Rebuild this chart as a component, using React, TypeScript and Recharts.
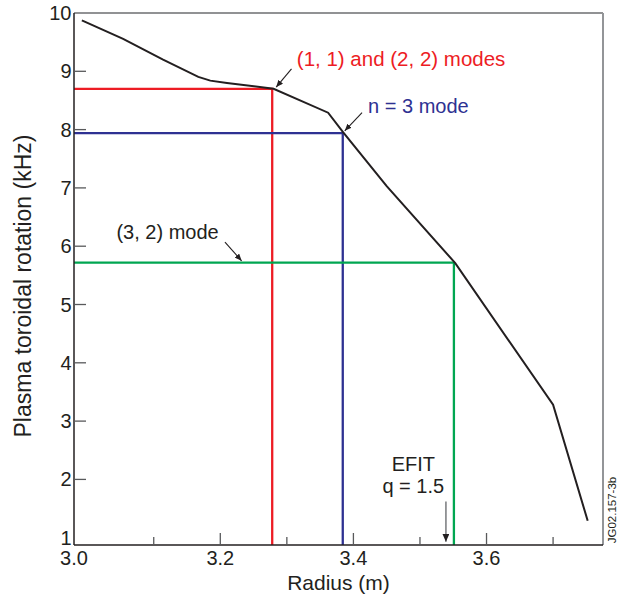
import React from "react";
import {
  ComposedChart,
  Line,
  XAxis,
  YAxis,
  ReferenceLine,
  ReferenceDot,
  Label,
} from "recharts";

// rotation profile
const radius = [2.992, 3.054, 3.114, 3.167, 3.185, 3.21, 3.28, 3.362, 3.385, 3.45, 3.553, 3.7, 3.752];
const rotation = [9.875, 9.556, 9.2, 8.904, 8.84, 8.8, 8.7, 8.29, 7.95, 7.03, 5.71, 3.28, 1.29];

// mode locations
const modeLabels = ["(1, 1) and (2, 2) modes", "n = 3 mode", "(3, 2) mode"];
const modeRadius = [3.278, 3.384, 3.551];
const modeRotation = [8.7, 7.94, 5.72];

const efitRadius = 3.539;
const efitLabels = ["EFIT", "q = 1.5"];

const xTickValues = [3.0, 3.1, 3.2, 3.3, 3.4, 3.5, 3.6, 3.7];
const xTickLabels = ["3.0", "", "3.2", "", "3.4", "", "3.6", ""];
const yTickValues = [1, 2, 3, 4, 5, 6, 7, 8, 9, 10];
const yTickLabels = ["1", "2", "3", "4", "5", "6", "7", "8", "9", "10"];

// the original axis starts a bit left of 3.0, with "3.0" printed at the corner
const X_MIN = 2.9802;
const X_MAX = 3.775;
const Y_MIN = 0.875;
const Y_MAX = 10;

const FONT = "Liberation Sans, Arial, Helvetica, sans-serif";
const INK = "#231f20";
const TICK = "#58595b";
const modeColors = ["#ed1c24", "#2e3192", "#00a651"];

const curve = radius.map((r, i) => ({ x: r, y: rotation[i] }));
const xTickPos = xTickValues.map((v) => (v === 3.0 ? X_MIN : v));

function XTick(props: any) {
  const { x, y, payload } = props;
  const i = xTickPos.indexOf(payload.value);
  const label = xTickLabels[i];
  const len = i === 0 ? 0 : label ? 12 : 8;
  return (
    <g>
      {len > 0 && <line x1={x} x2={x} y1={y} y2={y - len} stroke={TICK} strokeWidth={1.3} />}
      <text x={x} y={y + 20} textAnchor="middle" fontFamily={FONT} fontSize={20} fill={INK}>
        {label}
      </text>
    </g>
  );
}

function YTick(props: any) {
  const { x, y, payload } = props;
  const i = yTickValues.indexOf(payload.value);
  const edge = i === 0 || i === yTickValues.length - 1;
  return (
    <g>
      {!edge && <line x1={x} x2={x + 12} y1={y} y2={y} stroke={TICK} strokeWidth={1.3} />}
      <text x={x - 2.5} y={y + 7} textAnchor="end" fontFamily={FONT} fontSize={20} fill={INK}>
        {yTickLabels[i]}
      </text>
    </g>
  );
}

const arrow = (color: string, id: string, w = 1.1) => (p: any) => (
  <line x1={p.x1} y1={p.y1} x2={p.x2} y2={p.y2} stroke={color} strokeWidth={w} markerEnd={`url(#${id})`} />
);

const textAt =
  (text: string, color: string, anchor: string = "start", size = 20) =>
  (p: any) => (
    <text x={p.cx} y={p.cy + 7} textAnchor={anchor} fontFamily={FONT} fontSize={size} fill={color}>
      {text}
    </text>
  );

export default function App() {
  return (
    <div style={{ position: "absolute", left: 0, top: 0, background: "#fff" }}>
      <ComposedChart width={621} height={599} margin={{ top: 13, right: 18, bottom: 0, left: 0 }}>
        <defs>
          <marker id="arrowBlack" markerWidth={7} markerHeight={6} refX={7} refY={3} orient="auto" markerUnits="userSpaceOnUse">
            <path d="M0,0 L7,3 L0,6 Z" fill={INK} />
          </marker>
          <marker id="arrowGray" markerWidth={8} markerHeight={7} refX={8} refY={3.5} orient="auto" markerUnits="userSpaceOnUse">
            <path d="M0,0 L8,3.5 L0,7 Z" fill="#231f20" />
          </marker>
        </defs>
        <XAxis
          type="number"
          dataKey="x"
          domain={[X_MIN, X_MAX]}
          allowDataOverflow
          ticks={xTickPos}
          interval={0}
          tickLine={false}
          tickSize={0}
          tickMargin={0}
          tick={XTick}
          height={54}
          axisLine={{ stroke: INK, strokeWidth: 1.5 }}
        >
          <Label
            content={(p: any) => (
              <text
                x={p.viewBox.x + p.viewBox.width / 2}
                y={590}
                textAnchor="middle"
                fontFamily={FONT}
                fontSize={21}
                fill={INK}
              >
                Radius (m)
              </text>
            )}
          />
        </XAxis>
        <YAxis
          type="number"
          domain={[Y_MIN, Y_MAX]}
          allowDataOverflow
          ticks={yTickValues}
          interval={0}
          tickLine={false}
          tickSize={0}
          tickMargin={0}
          tick={YTick}
          width={74}
          axisLine={{ stroke: INK, strokeWidth: 1.5 }}
        >
          <Label
            content={(p: any) => {
              const cy = p.viewBox.y + p.viewBox.height / 2 + 7;
              return (
                <text
                  x={31}
                  y={cy}
                  transform={`rotate(-90, 31, ${cy})`}
                  textAnchor="middle"
                  fontFamily={FONT}
                  fontSize={23}
                  fill={INK}
                >
                  Plasma toroidal rotation (kHz)
                </text>
              );
            }}
          />
        </YAxis>

        <ReferenceLine y={Y_MAX} stroke="#6d6e71" strokeWidth={1.5} />
        <ReferenceLine x={X_MAX} stroke="#939598" strokeWidth={2} />

        {modeRadius.map((r, i) => (
          <Line
            key={modeLabels[i]}
            data={[
              { x: X_MIN, y: modeRotation[i] },
              { x: r, y: modeRotation[i] },
              { x: r, y: Y_MIN },
            ]}
            dataKey="y"
            type="linear"
            stroke={modeColors[i]}
            strokeWidth={2.3}
            dot={false}
            activeDot={false}
            isAnimationActive={false}
          />
        ))}

        <Line
          data={curve}
          dataKey="y"
          type="linear"
          stroke={INK}
          strokeWidth={2}
          dot={false}
          activeDot={false}
          isAnimationActive={false}
        />

        {/* annotation arrows */}
        <ReferenceLine segment={[{ x: 3.307, y: 9.04 }, { x: 3.284, y: 8.73 }]} shape={arrow(INK, "arrowBlack")} />
        <ReferenceLine segment={[{ x: 3.413, y: 8.29 }, { x: 3.387, y: 7.98 }]} shape={arrow(INK, "arrowBlack")} />
        <ReferenceLine segment={[{ x: 3.207, y: 6.07 }, { x: 3.232, y: 5.75 }]} shape={arrow(INK, "arrowBlack")} />
        <ReferenceLine
          segment={[{ x: efitRadius, y: 1.62 }, { x: efitRadius, y: 0.93 }]}
          shape={arrow("#808285", "arrowGray", 1.6)}
        />

        {/* annotation text */}
        <ReferenceDot x={3.315} y={9.21} r={0} shape={textAt(modeLabels[0], modeColors[0], "start", 20.5)} />
        <ReferenceDot x={3.422} y={8.41} r={0} shape={textAt(modeLabels[1], modeColors[1])} />
        <ReferenceDot x={3.044} y={6.24} r={0} shape={textAt(modeLabels[2], INK)} />
        <ReferenceDot x={3.49} y={2.27} r={0} shape={textAt(efitLabels[0], INK, "middle")} />
        <ReferenceDot x={3.49} y={1.88} r={0} shape={textAt(efitLabels[1], INK, "middle")} />
        <ReferenceDot
          x={3.794}
          y={1.475}
          r={0}
          ifOverflow="visible"
          shape={(p: any) => (
            <text
              x={p.cx}
              y={p.cy}
              transform={`rotate(-90, ${p.cx}, ${p.cy})`}
              textAnchor="middle"
              fontFamily={FONT}
              fontSize={11.5}
              fill={INK}
            >
              JG02.157-3b
            </text>
          )}
        />
      </ComposedChart>
    </div>
  );
}
